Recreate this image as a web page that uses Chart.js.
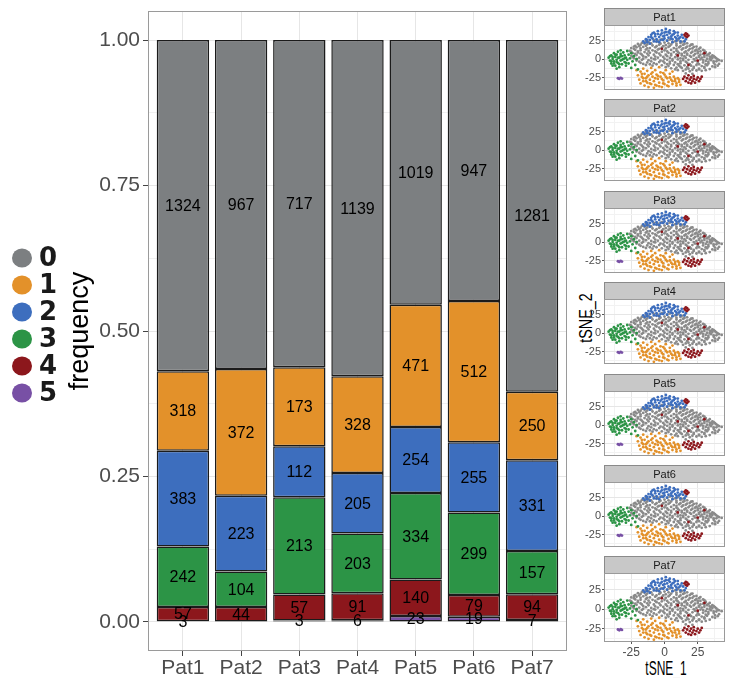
<!DOCTYPE html>
<html>
<head>
<title>Cluster frequency per patient</title>
<script src="https://cdn.jsdelivr.net/npm/chart.js@4"></script>
<style>
  body { margin: 0; background: #fff; width: 729px; height: 678px; overflow: hidden; position: relative; }
  canvas { position: absolute; }
  .axis-title { position: absolute; font-family: "Liberation Sans Narrow", "Liberation Sans", Arial, sans-serif; color: #000; white-space: nowrap; line-height: 1; }
  #tsne2 { left: 586px; top: 318px; font-size: 18px; transform: translate(-50%, -50%) rotate(-90deg) scaleX(0.8); }
  #tsne1 { left: 666px; top: 668px; font-size: 20px; transform: translate(-50%, -50%) scaleX(0.6); }
</style>
</head>
<body>
<canvas id="main" width="576" height="678" style="left:0;top:0"></canvas>
<div class="axis-title" id="tsne2">tSNE_2</div>
<div class="axis-title" id="tsne1">tSNE_1</div>
<script>
const patients = ['Pat1', 'Pat2', 'Pat3', 'Pat4', 'Pat5', 'Pat6', 'Pat7'];
const clusters = ['0', '1', '2', '3', '4', '5'];
const clusterColors = ['#7c7f81', '#e3912a', '#3d6ebe', '#2c9446', '#8c171c', '#7850a5'];

// cell counts per cluster, one value per patient
const count0 = [1324, 967, 717, 1139, 1019, 947, 1281];
const count1 = [318, 372, 173, 328, 471, 512, 250];
const count2 = [383, 223, 112, 205, 254, 255, 331];
const count3 = [242, 104, 213, 203, 334, 299, 157];
const count4 = [57, 44, 57, 91, 140, 79, 94];
const count5 = [3, null, 3, 6, 23, 19, 7];

const yTicks = [0, 0.25, 0.5, 0.75, 1];
const yMinor = [0.125, 0.375, 0.625, 0.875];

// tSNE embedding, rough cloud of each cluster (shared layout in every facet)
const tsneTicks = [-25, 0, 25];
const tsneMinor = [-37.5, -12.5, 12.5, 37.5];
const tsneGrey = [
  [-8,26],[-2,27],[4,26.5],[10,25.5],[15,24],
  [-17,22],[-12,23],[-6,23.5],[0,22.5],[6,23],[12,22],[17,21.5],[21,20],
  [-22,18],[-18,19.5],[-13,20],[-9,18.5],[-4,19.5],[1,19],[5,20],[9,18.5],[14,19.5],[19,18],[24,17],
  [-25,15],[-21,16],[-16,16.5],[-11,15],[-7,16],[-2,15.5],[3,16.5],[7,15],[11,16],[16,15.5],[21,14.5],[26,14],[29,12.5],
  [-26,11],[-22,12.5],[-18,12],[-14,13],[-9,12],[-5,13],[0,12],[5,12.5],[9,11.5],[13,13],[18,12],[23,11.5],[27,10.5],[31,9.5],
  [-24,8],[-20,9],[-15,9.5],[-11,8.5],[-6,9],[-2,10],[3,8.5],[7,9.5],[11,8],[15,9],[20,8.5],[25,8],[29,7],[33,6.5],[36,5],
  [-25,4.5],[-21,5.5],[-17,6],[-12,5],[-8,6],[-3,5],[1,6],[5,5],[9,6.5],[13,5],[17,6],[22,5],[26,4.5],[30,5.5],[34,3.5],[38,2.5],
  [-23,1],[-19,2],[-14,2.5],[-10,1.5],[-5,2],[-1,3],[4,1.5],[8,2.5],[12,1],[16,2],[20,3],[24,1.5],[28,2],[32,0.5],[36,1.5],[40,-0.5],
  [-21,-2],[-17,-1],[-12,-1.5],[-7,-0.5],[-3,-2],[2,-1],[6,-2],[10,-0.5],[14,-1.5],[18,-1],[23,-2],[27,-0.5],[31,-2.5],[35,-1.5],[39,-3],[43,-2.5],
  [-18,-5],[-13,-4.5],[-8,-5.5],[-4,-4],[0,-5],[4,-6],[8,-4.5],[12,-5.5],[17,-5],[21,-4],[25,-5.5],[29,-4.5],[33,-6],[37,-5],[41,-6.5],
  [-14,-8],[-9,-9],[-2,-8.5],[3,-9.5],[7,-8],[11,-9],[15,-8.5],[20,-9],[24,-8],[28,-9.5],[32,-8.5],[36,-10],[40,-9],
  [5,-12.5],[9,-11.5],[13,-12],[18,-13],[22,-12],[26,-13],[30,-12],[34,-13.5],
  [10,-15],[14,-16],[19,-16.5],[24,-15.5],[28,-16],[16,-19.5],[21,-20],
  [-14,24.5],[-5,25],[2,25],[8,24],[13,23.5],
  [-20,20.5],[-15,21],[-10,21.5],[-3,21],[3,21.5],[9,21],[15,20.5],[20,19.5],
  [-23,17],[-19,17.5],[-14,18],[-6,17.5],[-1,17.5],[4,18],[12,17.5],[17,17],[22,16.5],[27,15.5],
  [-23,14],[-18,14.5],[-13,14.5],[-4,14],[1,14.5],[9,14],[14,14.5],[19,14],[24,13],[30,11.5],
  [-25,10],[-20,10.5],[-12,11],[-7,10.5],[2,10.5],[10,10],[16,10.5],[21,10],[25,10.5],[31,8.5],[34,8],
  [-22,7],[-18,7.5],[-13,7.5],[-4,7.5],[5,7],[13,7],[17,7.5],[23,7],[27,6],[32,5],[37,4],
  [-24,3],[-16,4],[-7,3.5],[2,4],[10,3.5],[15,4],[19,4.5],[26,3],[30,3],[35,2.5],[39,1],
  [-21,0],[-16,0.5],[-8,0],[0,0.5],[6,0],[14,0.5],[22,0],[29,-1],[34,0],[41,-1.5],
  [-19,-3.5],[-10,-3],[-1,-3],[4,-3.5],[12,-3],[16,-3.5],[25,-3],[33,-3.5],[37,-3],
  [-16,-6.5],[-11,-7],[-6,-7],[2,-7],[10,-7],[19,-7],[26,-7],[31,-7],[38,-7.5],
  [1,-11],[12,-10.5],[17,-11],[22,-10.5],[30,-10.5],[38,-11],
  [8,-14],[16,-14],[21,-14.5],[26,-14],[31,-15]
];
const tsneOrange = [
  [-20,-22],[-19,-28],[-18,-17],[-18,-33],[-17,-24],[-16,-13],[-16,-30],[-15,-36],[-15,-20],[-14,-26],
  [-13,-16],[-13,-32],[-12,-38],[-12,-22],[-11,-28],[-10,-12],[-10,-34],[-9,-18],[-9,-24],[-8,-30],
  [-8,-39],[-7,-15],[-6,-21],[-6,-36],[-5,-27],[-4,-32],[-4,-11],[-3,-18],[-3,-24],[-2,-38],
  [-1,-29],[0,-21],[0,-34],[1,-15],[2,-26],[3,-31],[3,-37],[4,-20],[5,-28],[6,-34],
  [7,-24],[8,-30],[9,-36],[10,-26],[11,-31],[12,-35],[-21,-15],[6,-17],
  [-17,-20],[-14,-30],[-11,-33],[-10,-20],[-7,-26],[-7,-35],[-5,-23],[-4,-37],[-2,-27],[-1,-33],
  [1,-24],[2,-36],[4,-25],[6,-30],[8,-27],[9,-33],[-13,-24],[-1,-19],[11,-28],[-16,-26]
];
const tsneBlue = [
  [-16,24],[-14,27],[-13,23],[-12,30],[-11,26],[-10,33],[-9,28],[-8,24],[-8,36],[-7,31],
  [-6,27],[-5,38],[-5,34],[-4,30],[-3,26],[-2,39],[-2,35],[-1,31],[0,28],[1,41],
  [1,37],[2,33],[3,29],[4,39],[4,35],[5,31],[6,27],[7,38],[7,34],[8,30],
  [9,25],[10,36],[10,32],[11,28],[12,24],[13,33],[14,29],[15,24],[16,27],[-11,21],
  [-4,23],[6,23],[-9,35],[2,25],
  [-13,26],[-10,30],[-7,34],[-6,24],[-3,33],[0,36],[0,32],[3,37],[5,28],[8,36],
  [9,28],[12,30],[-1,26],[6,33],[-15,22]
];
const tsneGreen = [
  [-42,2],[-41,-2],[-40,5],[-40,-6],[-39,0],[-38,8],[-38,-3],[-37,3],[-37,-9],[-36,-1],
  [-36,6],[-35,10],[-35,-5],[-34,2],[-34,-11],[-33,7],[-33,-2],[-32,4],[-32,-7],[-31,0],
  [-31,9],[-30,-4],[-30,5],[-29,-9],[-29,2],[-28,-1],[-28,11],[-27,6],[-27,-6],[-26,1],
  [-25,-12],[-25,8],[-24,-3],[-23,4],[-22,-8],[-21,0],[-20,-14],[-39,-9],[-33,12],[-36,-13],
  [-41,4],[-39,3],[-38,-6],[-37,6],[-35,2],[-34,-7],[-33,4],[-32,-1],[-30,1],[-29,-5],[-36,-4],[-40,-3]
];
const tsneRed = [
  [14,-27],[15,-24],[16,-30],[17,-26],[18,-22],[18,-32],[19,-28],[20,-25],[21,-30],[22,-27],
  [22,-23],[23,-32],[24,-28],[25,-25],[26,-30],[27,-27],[28,-24],[20,-33],
  [15,33],[16,31],[17,34],[18,32],[16,35],[17,30],
  [10,5],[25,-2],[-2,14],[30,8],[18,-8]
];
const tsnePurple = [[-35,-26],[-34,-27],[-33,-25.5],[-32,-26.5]];

const mainFont = '"Liberation Sans", Arial, sans-serif';
const narrowFont = '"Liberation Sans Narrow", "Liberation Sans", Arial, sans-serif';
Chart.defaults.font.family = mainFont;

const counts = [count0, count1, count2, count3, count4, count5];
const totals = patients.map((p, i) => counts.reduce((s, c) => s + (c[i] || 0), 0));

// bottom of the stack is cluster 5, top is cluster 0
const stackOrder = [5, 4, 3, 2, 1, 0];
const barSets = stackOrder.map(k => ({
    label: clusters[k],
    data: counts[k].map((v, i) => ({ x: i + 1, y: v == null ? null : v / totals[i], n: v })),
    backgroundColor: clusterColors[k],
    borderColor: '#1b1b1b',
    borderWidth: 1.5,
    borderSkipped: false,
    categoryPercentage: 1,
    barPercentage: 0.9
}));

const countLabels = {
    id: 'countLabels',
    afterDatasetsDraw(chart) {
        const ctx = chart.ctx;
        ctx.save();
        ctx.font = '16px ' + mainFont;
        ctx.fillStyle = '#000';
        ctx.textAlign = 'center';
        ctx.textBaseline = 'middle';
        chart.data.datasets.forEach((ds, di) => {
            chart.getDatasetMeta(di).data.forEach((bar, i) => {
                const n = ds.data[i].n;
                if (n == null) return;
                ctx.fillText(String(n), bar.x, (bar.y + bar.base) / 2 + 1);
            });
        });
        ctx.restore();
    }
};

const panelFrame = {
    id: 'panelFrame',
    afterDraw(chart) {
        const { ctx, chartArea: a } = chart;
        ctx.save();
        ctx.strokeStyle = '#9a9a9a';
        ctx.lineWidth = 1;
        ctx.strokeRect(a.left + 0.5, a.top + 0.5, a.right - a.left - 1, a.bottom - a.top - 1);
        ctx.restore();
    }
};

const clusterKey = {
    id: 'clusterKey',
    afterDraw(chart) {
        const ctx = chart.ctx;
        ctx.save();
        clusters.forEach((c, k) => {
            const y = 258 + 27 * k;
            ctx.beginPath();
            ctx.ellipse(22, y, 10, 9.5, 0, 0, Math.PI * 2);
            ctx.fillStyle = clusterColors[k];
            ctx.fill();
            ctx.font = 'bold 26px "DejaVu Sans", sans-serif';
            ctx.fillStyle = '#1a1a1a';
            ctx.textAlign = 'left';
            ctx.textBaseline = 'middle';
            ctx.fillText(c, 39, y + 1);
        });
        ctx.restore();
    }
};

new Chart(document.getElementById('main'), {
    type: 'bar',
    data: { datasets: barSets },
    options: {
        responsive: false,
        animation: false,
        events: [],
        layout: { padding: { left: 64, right: 9, top: 11, bottom: 0 } },
        plugins: { legend: { display: false }, tooltip: { enabled: false } },
        scales: {
            x: {
                type: 'linear', min: 0.4, max: 7.6, stacked: true, offset: false,
                afterBuildTicks: s => { s.ticks = patients.map((p, i) => ({ value: i + 1 })); },
                afterFit: s => { s.height = 27; s.paddingLeft = 0; s.paddingRight = 0; },
                ticks: { callback: v => patients[v - 1], font: { size: 21 }, color: '#4d4d4d', padding: 0, maxRotation: 0, autoSkip: false },
                grid: { offset: false, color: '#e6e6e6', lineWidth: 1, tickLength: 5, tickColor: '#444' },
                border: { display: false }
            },
            y: {
                type: 'linear', min: -0.05, max: 1.05, stacked: true,
                afterBuildTicks: s => { s.ticks = yTicks.concat(yMinor).sort((a, b) => a - b).map(v => ({ value: v })); },
                afterFit: s => { s.width = 84; s.paddingTop = 0; s.paddingBottom = 0; },
                ticks: { callback: v => yTicks.includes(v) ? v.toFixed(2) : '', font: { size: 21 }, color: '#4d4d4d', padding: 3 },
                grid: {
                    color: c => yMinor.includes(c.tick && c.tick.value) ? '#f0f0f0' : '#e6e6e6',
                    lineWidth: 1, tickLength: 5,
                    tickColor: c => yTicks.includes(c.tick && c.tick.value) ? '#444' : 'rgba(0,0,0,0)'
                },
                border: { display: false },
                title: { display: true, text: 'frequency', font: { size: 27 }, color: '#000', padding: 0 }
            }
        }
    },
    plugins: [countLabels, panelFrame, clusterKey]
});

// tSNE facets, one small chart per patient
const tsneClouds = [
    { pts: tsnePurple, color: clusterColors[5], n: count5 },
    { pts: tsneRed, color: clusterColors[4], n: count4 },
    { pts: tsneGreen, color: clusterColors[3], n: count3 },
    { pts: tsneBlue, color: clusterColors[2], n: count2 },
    { pts: tsneOrange, color: clusterColors[1], n: count1 },
    { pts: tsneGrey, color: '#8a8a8a', n: count0 }
];

const stripPlugin = {
    id: 'strip',
    beforeDraw(chart, args, opts) {
        const { ctx, chartArea: a } = chart;
        ctx.save();
        ctx.fillStyle = '#fff';
        ctx.fillRect(a.left, a.top, a.right - a.left, a.bottom - a.top);
        ctx.fillStyle = '#c8c8c8';
        ctx.fillRect(a.left, 0, a.right - a.left, a.top);
        ctx.strokeStyle = '#8a8a8a';
        ctx.lineWidth = 1;
        ctx.strokeRect(a.left + 0.5, 0.5, a.right - a.left - 1, a.top - 1);
        ctx.fillStyle = '#1a1a1a';
        ctx.font = '11px ' + narrowFont;
        ctx.textAlign = 'center';
        ctx.textBaseline = 'middle';
        ctx.fillText(opts.label, (a.left + a.right) / 2, a.top / 2 + 0.5);
        ctx.restore();
    },
    afterDraw(chart) {
        const { ctx, chartArea: a } = chart;
        ctx.save();
        ctx.strokeStyle = '#9a9a9a';
        ctx.lineWidth = 1;
        ctx.strokeRect(a.left + 0.5, a.top - 0.5, a.right - a.left - 1, a.bottom - a.top);
        ctx.restore();
    }
};

patients.forEach((p, i) => {
    const last = i === patients.length - 1;
    const top = Math.round(8 + 91.4 * i);
    const cv = document.createElement('canvas');
    cv.width = 149;
    cv.height = last ? 108 : 86;
    cv.style.left = '580px';
    cv.style.top = top + 'px';
    document.body.appendChild(cv);

    const sets = tsneClouds.filter(c => c.n[i] != null).map(c => ({
        data: c.pts.map(q => ({ x: q[0], y: q[1] })),
        backgroundColor: c.color,
        borderWidth: 0,
        pointRadius: 1.4
    }));

    new Chart(cv, {
        type: 'scatter',
        data: { datasets: sets },
        options: {
            responsive: false,
            animation: false,
            events: [],
            layout: { padding: { top: 18, right: 1, left: 0, bottom: 0 } },
            plugins: { legend: { display: false }, tooltip: { enabled: false }, strip: { label: p } },
            scales: {
                x: {
                    min: -45.5, max: 45.5,
                    afterBuildTicks: s => { s.ticks = tsneTicks.concat(tsneMinor).sort((a, b) => a - b).map(v => ({ value: v })); },
                    afterFit: s => { s.height = last ? 22 : 0; s.paddingLeft = 0; s.paddingRight = 0; },
                    ticks: { display: last, callback: v => tsneTicks.includes(v) ? String(v) : '', font: { size: 12, family: narrowFont }, color: '#4d4d4d', padding: 1, maxRotation: 0, autoSkip: false },
                    grid: {
                        color: c => tsneMinor.includes(c.tick && c.tick.value) ? '#f2f2f2' : '#e6e6e6',
                        drawTicks: last, tickLength: 2,
                        tickColor: c => tsneTicks.includes(c.tick && c.tick.value) ? '#555' : 'rgba(0,0,0,0)'
                    },
                    border: { display: false }
                },
                y: {
                    min: -42, max: 45,
                    afterBuildTicks: s => { s.ticks = tsneTicks.concat(tsneMinor).sort((a, b) => a - b).map(v => ({ value: v })); },
                    afterFit: s => { s.width = 24; s.paddingTop = 0; s.paddingBottom = 0; },
                    ticks: { callback: v => tsneTicks.includes(v) ? String(v) : '', font: { size: 11, family: narrowFont }, color: '#4d4d4d', padding: 1, autoSkip: false },
                    grid: {
                        color: c => tsneMinor.includes(c.tick && c.tick.value) ? '#f2f2f2' : '#e6e6e6',
                        tickLength: 2,
                        tickColor: c => tsneTicks.includes(c.tick && c.tick.value) ? '#555' : 'rgba(0,0,0,0)'
                    },
                    border: { display: false }
                }
            }
        },
        plugins: [stripPlugin]
    });
});
</script>
</body>
</html>
